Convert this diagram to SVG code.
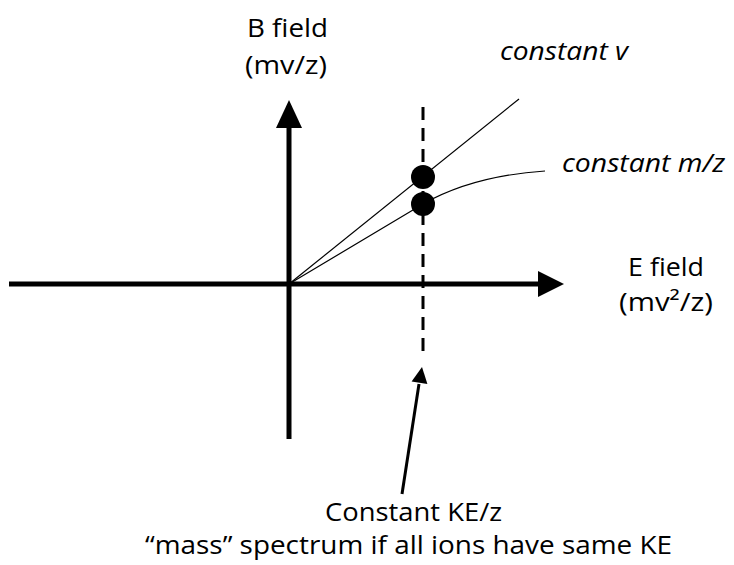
<svg xmlns="http://www.w3.org/2000/svg" width="734" height="565" viewBox="0 0 734 565">
<style>
text{font-family:"Open Sans","Noto Sans","Liberation Sans",sans-serif;font-size:26px;fill:#000}
.it{font-style:italic}
.axis{stroke:#000;stroke-width:5;fill:none}
.thin{stroke:#000;stroke-width:1.2;fill:none}
.dash{stroke:#000;stroke-width:3;stroke-dasharray:13 8;fill:none}
.head{fill:#000}
</style>
<rect width="734" height="565" fill="#fff"/>
<g id="connectors">
  <line class="axis" x1="9" y1="284" x2="540" y2="284"/>
  <polygon class="head" points="564,284 538,271 538,297"/>
  <line class="axis" x1="289" y1="439" x2="289" y2="125"/>
  <polygon class="head" points="289,100 276,128 302,128"/>
  <line class="dash" x1="423" y1="107" x2="423" y2="353"/>
  <line class="thin" x1="289" y1="284" x2="519" y2="99"/>
  <path class="thin" d="M289,284 L423,204 C460,183 500,174 545,171"/>
  <line stroke="#000" stroke-width="3" x1="402" y1="494" x2="419" y2="384"/>
  <polygon class="head" points="422,367 411.6,381.6 427.4,384"/>
</g>
<g id="point-v"><circle cx="423" cy="177" r="12" fill="#000"/></g>
<g id="point-mz"><circle cx="423" cy="204" r="12" fill="#000"/></g>
<g id="label-b">
  <text x="247" y="37" textLength="81" lengthAdjust="spacingAndGlyphs">B field</text>
  <text x="245" y="74" textLength="82" lengthAdjust="spacingAndGlyphs">(mv/z)</text>
</g>
<g id="label-e">
  <text x="628" y="276" textLength="76" lengthAdjust="spacingAndGlyphs">E field</text>
  <text x="619" y="311" textLength="94" lengthAdjust="spacingAndGlyphs">(mv²/z)</text>
</g>
<g id="label-v"><text class="it" x="500" y="60" textLength="128" lengthAdjust="spacingAndGlyphs">constant v</text></g>
<g id="label-mz"><text class="it" x="562" y="172" textLength="163" lengthAdjust="spacingAndGlyphs">constant m/z</text></g>
<g id="label-ke">
  <text x="325" y="521" textLength="177" lengthAdjust="spacingAndGlyphs">Constant KE/z</text>
  <text x="145" y="554" textLength="527" lengthAdjust="spacingAndGlyphs">“mass” spectrum if all ions have same KE</text>
</g>
</svg>
